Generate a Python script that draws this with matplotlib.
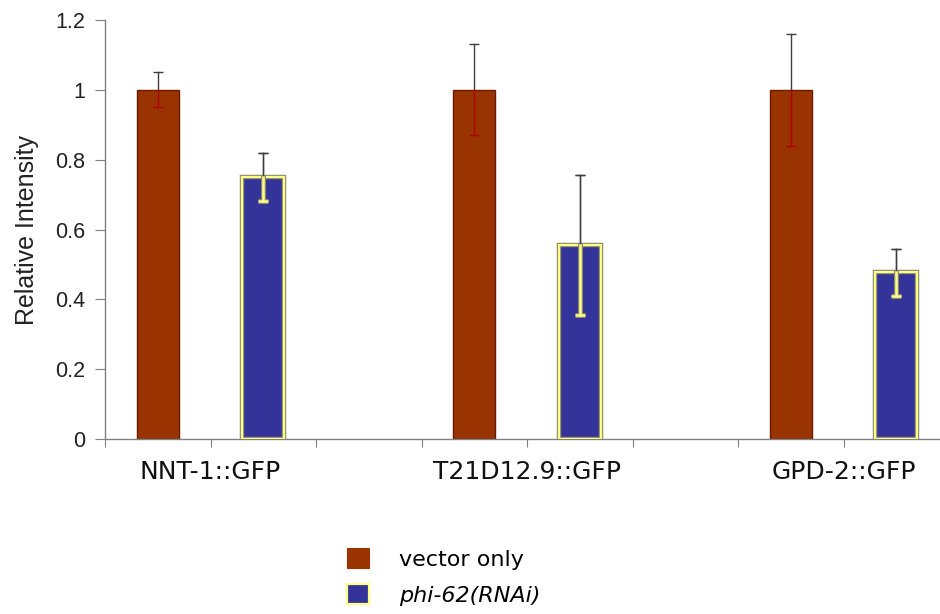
#!/usr/bin/env python3

import matplotlib
matplotlib.use("Agg")
import matplotlib.pyplot as plt
from matplotlib.patches import Patch


# =====================================================
# DATA
# =====================================================

CATEGORIES = ["NNT-1::GFP", "T21D12.9::GFP", "GPD-2::GFP"]

VECTOR_VALUES = [1.0, 1.0, 1.0]
VECTOR_ERR = [0.05, 0.13, 0.16]

RNAI_VALUES = [0.75, 0.555, 0.477]
RNAI_ERR = [0.068, 0.20, 0.068]

Y_TICKS = [0, 0.2, 0.4, 0.6, 0.8, 1, 1.2]
Y_TICK_LABELS = ["0", "0.2", "0.4", "0.6", "0.8", "1", "1.2"]

LEGEND_LABELS = ["vector only", "phi-62(RNAi)"]


# =====================================================
# STYLE
# =====================================================

RED = "#993300"
RED_EDGE = "#6b1a00"
RED_ERR_IN = "#b00000"
BLUE = "#333399"
YELLOW = "#ffff88"
GRAY_EDGE = "#8a8a70"
ERR_COLOR = "#404040"
AXIS_COLOR = "#808080"
TEXT_COLOR = "#222222"

BAR_WIDTH = 0.4
SLOTS_PER_GROUP = 3
CAP_SIZE = 7


def draw_errors(ax, xs, vals, errs, inner_color, inner_width):
    for x, v, e in zip(xs, vals, errs):
        # upper part (outside the bar)
        ax.plot([x, x], [v, v + e], color=ERR_COLOR, lw=1.0, zorder=4)
        ax.plot(x, v + e, marker="_", markersize=CAP_SIZE, color=ERR_COLOR,
                mew=1.0, zorder=4)
        # lower part (inside the bar)
        ax.plot([x, x], [v - e, v], color=inner_color, lw=inner_width,
                zorder=4)
        ax.plot(x, v - e, marker="_", markersize=CAP_SIZE, color=inner_color,
                mew=inner_width, zorder=4)


def main():
    plt.rcParams["font.family"] = ["Liberation Sans", "DejaVu Sans"]

    fig = plt.figure(figsize=(9.4, 6.14), dpi=100)
    ax = fig.add_axes([0.1117, 0.285, 0.898, 0.6824])

    n = len(CATEGORIES)
    x_red = [SLOTS_PER_GROUP * i for i in range(n)]
    x_blue = [SLOTS_PER_GROUP * i + 1 for i in range(n)]

    ax.bar(x_red, VECTOR_VALUES, width=BAR_WIDTH, color=RED,
           edgecolor=RED_EDGE, linewidth=1.0, zorder=2)
    ax.bar(x_blue, RNAI_VALUES, width=BAR_WIDTH, color=BLUE,
           edgecolor=GRAY_EDGE, linewidth=3.2, zorder=2)
    ax.bar(x_blue, RNAI_VALUES, width=BAR_WIDTH, color="none",
           edgecolor=YELLOW, linewidth=1.6, zorder=3)

    draw_errors(ax, x_red, VECTOR_VALUES, VECTOR_ERR, RED_ERR_IN, 1.0)
    draw_errors(ax, x_blue, RNAI_VALUES, RNAI_ERR, GRAY_EDGE, 3.6)
    draw_errors(ax, x_blue, RNAI_VALUES, RNAI_ERR, YELLOW, 1.8)

    n_slots = SLOTS_PER_GROUP * n - 1
    ax.set_xlim(-0.5, n_slots - 0.5)
    ax.set_ylim(0, 1.2)

    ax.set_xticks([k - 0.5 for k in range(n_slots + 1)])
    ax.set_xticklabels([])
    ax.set_yticks(Y_TICKS)
    ax.set_yticklabels(Y_TICK_LABELS)

    for side in ["top", "right"]:
        ax.spines[side].set_visible(False)
    for side in ["left", "bottom"]:
        ax.spines[side].set_color(AXIS_COLOR)
        ax.spines[side].set_linewidth(1.0)

    ax.tick_params(axis="y", direction="out", length=7, color=AXIS_COLOR,
                   labelsize=15.5, pad=7, labelcolor=TEXT_COLOR)
    ax.tick_params(axis="x", direction="out", length=6, color=AXIS_COLOR)

    ax.set_ylabel("Relative Intensity", fontsize=18, labelpad=12,
                  color=TEXT_COLOR)

    # category labels between the two bars of each group
    for i, cat in enumerate(CATEGORIES):
        xc = (x_red[i] + x_blue[i]) / 2
        ax.text(xc, -0.079, cat, transform=ax.get_xaxis_transform(),
                ha="center", va="center", fontsize=18,
                family="DejaVu Sans", color="#111111")

    handles = [
        Patch(facecolor=RED, edgecolor=RED, linewidth=0.8),
        Patch(facecolor=BLUE, edgecolor=YELLOW, linewidth=1.6),
    ]
    leg = fig.legend(
        handles, LEGEND_LABELS,
        loc="center", bbox_to_anchor=(0.472, 0.06),
        frameon=False,
        handlelength=1.0, handleheight=1.0,
        handletextpad=1.35, labelspacing=0.65,
        prop={"family": "DejaVu Sans", "size": 16},
    )
    leg.get_texts()[1].set_fontstyle("italic")

    fig.savefig("out.png", dpi=100)


if __name__ == "__main__":
    main()
